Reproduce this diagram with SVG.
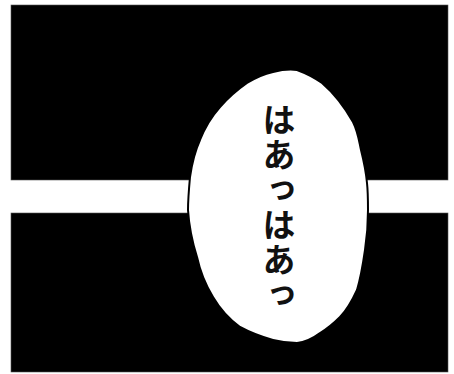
<svg xmlns="http://www.w3.org/2000/svg" width="454" height="374" viewBox="0 0 454 374">
<style>
.panel{fill:#000;stroke:#555;stroke-width:0.6}
.bubble{fill:#fff;stroke:#000;stroke-width:2}
.say{font-family:"Noto Sans CJK JP","Noto Sans CJK SC",sans-serif;font-size:33px;font-weight:bold;fill:#111;writing-mode:vertical-rl;letter-spacing:2px}
</style>
<rect width="454" height="374" fill="#fff"/>
<g id="panel-top"><rect class="panel" x="11" y="5" width="437" height="175"/></g>
<g id="panel-bottom"><rect class="panel" x="11" y="213" width="437" height="159"/></g>
<g id="bubble">
<path class="bubble" d="M297,70 C308,74 315,78 322,83 C336,95 345,108 353,122 C358,132 359,141 361,150 C364,162 366,172 367,183 C368,192 368,201 368,210 C368,224 367,237 365,250 C363,264 361,277 357,290 C352,301 347,310 340,317 C333,324 327,329 320,333 C312,339 305,342 297,343 C289,343 281,342 273,340 C262,337 251,333 240,327 C229,319 220,309 213,297 C205,284 200,271 197,257 C192,241 189,226 188,210 C188,199 189,188 190,177 C192,163 195,151 200,140 C205,127 212,116 220,107 C228,98 237,90 247,83 C255,78 264,74 273,72 C281,70 289,69 297,70 Z"/>
<text class="say" x="279" y="103">はあっはあっ</text>
</g>
</svg>
